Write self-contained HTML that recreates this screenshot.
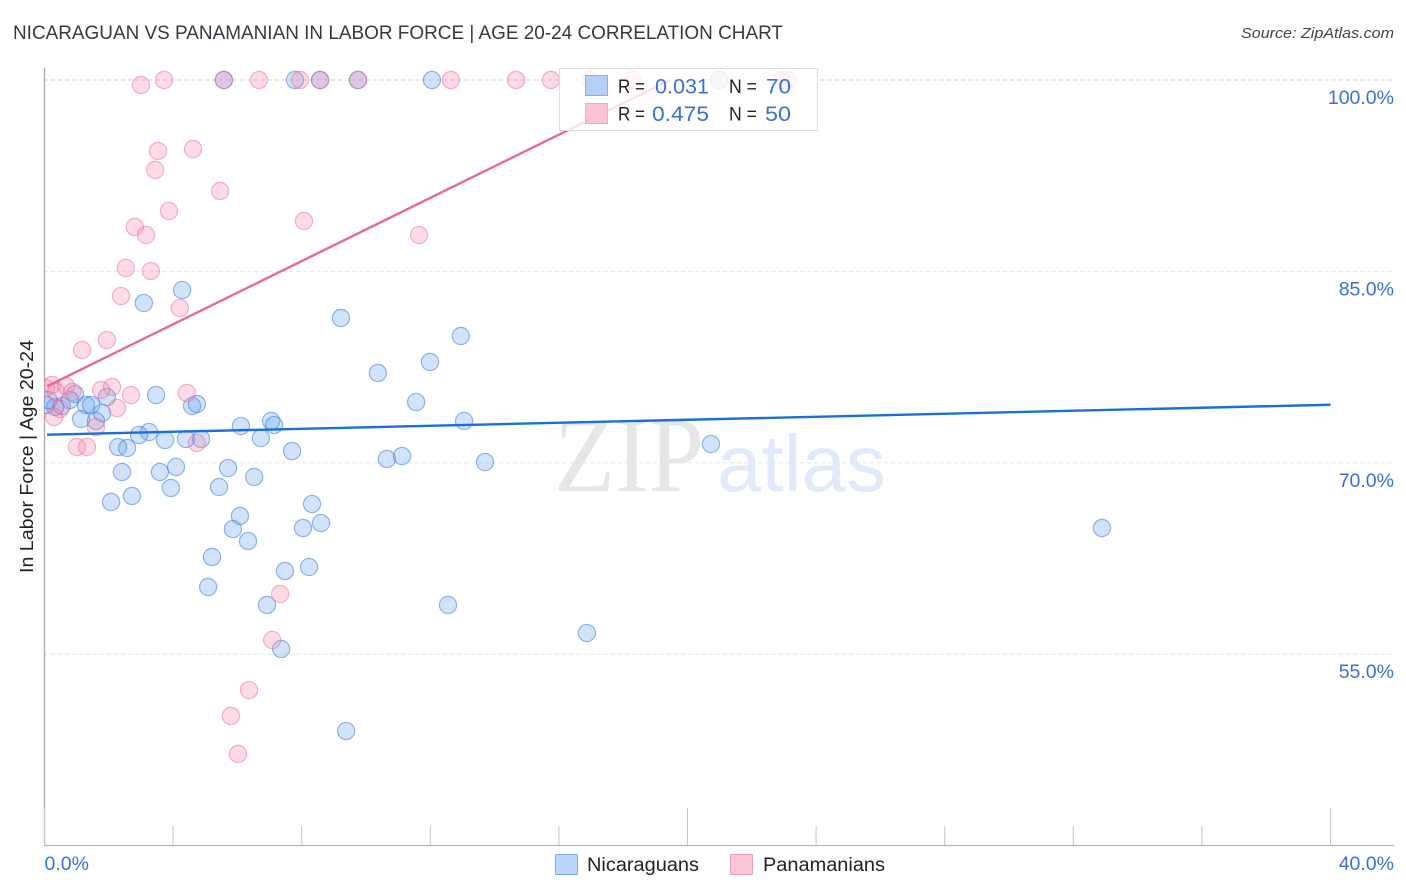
<!DOCTYPE html>
<html lang="en">
<head>
<meta charset="utf-8">
<title>Nicaraguan vs Panamanian in Labor Force | Age 20-24 Correlation Chart</title>
<style>
html,body{margin:0;padding:0;background:#fff;}
body{width:1406px;height:892px;overflow:hidden;}
svg{display:block;font-family:"Liberation Sans",sans-serif;}
</style>
</head>
<body>
<svg id="chart" width="1406" height="892" viewBox="0 0 1406 892" xmlns="http://www.w3.org/2000/svg">
  <defs>
    <clipPath id="plot-clip"><rect x="44.5" y="60" width="1350" height="786"/></clipPath>
  </defs>
  <rect x="0" y="0" width="1406" height="892" fill="#ffffff"/>
  <text x="13" y="39" font-size="19" fill="#333a42" textLength="770" lengthAdjust="spacingAndGlyphs">NICARAGUAN VS PANAMANIAN IN LABOR FORCE | AGE 20-24 CORRELATION CHART</text>
  <text x="1394" y="38" font-size="15" font-style="italic" fill="#444" text-anchor="end" textLength="153" lengthAdjust="spacingAndGlyphs">Source: ZipAtlas.com</text>
  <g>
    <text x="554" y="491" font-family="'Liberation Serif',serif" font-size="107" fill="#e6e6e6" textLength="150" lengthAdjust="spacingAndGlyphs">ZIP</text>
    <text x="717" y="491" font-size="80" fill="#e1eafa" textLength="169" lengthAdjust="spacingAndGlyphs">atlas</text>
  </g>
  <g id="grid"></g>
  <g id="axes"></g>
  <g clip-path="url(#plot-clip)">
    <g id="points-nicaraguans"></g>
    <g id="points-panamanians"></g>
    <g id="trends"></g>
  </g>
  <text transform="translate(33,573) rotate(-90)" font-size="18.5" fill="#222" textLength="233" lengthAdjust="spacingAndGlyphs">In Labor Force | Age 20-24</text>
  <g id="ticklabels"></g>
  <g>
    <rect x="559.5" y="68.5" width="258" height="62" fill="#ffffff" fill-opacity="0.8" stroke="#dcdcdc" stroke-width="1"/>
    <rect x="585.5" y="75.5" width="22" height="20" fill="#b5cff5" stroke="#86b2ea"/>
    <rect x="585.5" y="103.5" width="22" height="20" fill="#fbc4d6" stroke="#f3a9c2"/>
    <text x="618" y="93" font-size="19" fill="#222" textLength="27" lengthAdjust="spacingAndGlyphs">R =</text>
    <text x="655" y="93.5" font-size="21" fill="#3a70d6" textLength="54" lengthAdjust="spacingAndGlyphs">0.031</text>
    <text x="729" y="93" font-size="19" fill="#222" textLength="28" lengthAdjust="spacingAndGlyphs">N =</text>
    <text x="766" y="93.5" font-size="21" fill="#3a70d6" textLength="25" lengthAdjust="spacingAndGlyphs">70</text>
    <text x="618" y="120.5" font-size="19" fill="#222" textLength="27" lengthAdjust="spacingAndGlyphs">R =</text>
    <text x="652" y="121" font-size="21" fill="#3a70d6" textLength="57" lengthAdjust="spacingAndGlyphs">0.475</text>
    <text x="729" y="120.5" font-size="19" fill="#222" textLength="28" lengthAdjust="spacingAndGlyphs">N =</text>
    <text x="765" y="121" font-size="21" fill="#3a70d6" textLength="26" lengthAdjust="spacingAndGlyphs">50</text>
  </g>
  <g>
    <rect x="555.5" y="854.5" width="22" height="20" rx="1" fill="#b9d5f9" stroke="#7ea9e2"/>
    <text x="587" y="871" font-size="19" fill="#222" textLength="112" lengthAdjust="spacingAndGlyphs">Nicaraguans</text>
    <rect x="730.5" y="854.5" width="22" height="20" rx="1" fill="#fcc5d7" stroke="#eba0b9"/>
    <text x="763" y="871" font-size="19" fill="#222" textLength="122" lengthAdjust="spacingAndGlyphs">Panamanians</text>
  </g>
</svg>
<script>
const nicaraguanX = [5.58,7.79,8.57,9.75,12.05,20.98,4.28,3.09,9.22,12.95,11.99,10.37,3.47,11.56,4.59,4.74,1.94,0.95,13.05,7.05,7.14,6.11,6.73,7.70,2.94,3.25,3.75,4.40,4.87,2.29,2.57,2.41,3.59,4.09,5.71,6.52,3.93,5.43,2.72,2.07,8.32,8.60,6.08,5.86,8.04,6.33,5.21,7.48,8.23,5.09,6.92,12.55,16.87,7.36,9.38,32.89,20.73,13.70,10.65,11.12,1.14,1.29,1.45,1.60,1.79,0.54,0.33,0.05,0.12,0.79];
const nicaraguanY = [100,100,100,100,100,100,83.54,82.52,81.35,79.94,77.90,77.04,75.31,74.76,74.45,74.61,75.16,75.39,73.28,73.28,72.96,72.88,71.94,70.92,72.18,72.41,71.79,71.87,71.87,71.24,71.16,69.28,69.28,69.67,69.59,68.89,68.03,68.10,67.40,66.93,66.77,65.28,65.83,64.81,64.89,63.87,62.62,61.52,61.83,60.27,58.86,58.86,56.66,55.41,48.98,64.89,71.47,70.06,70.30,70.53,73.43,74.53,74.53,73.28,73.90,74.45,74.37,74.53,74.92,74.92];
const panamanianX = [3.00,3.72,5.58,6.67,7.95,8.57,9.75,12.64,14.67,15.75,16.97,18.30,23.09,22.94,4.62,3.53,3.44,5.46,3.87,2.81,3.16,8.07,11.65,3.31,2.53,2.38,4.21,1.94,1.17,2.10,1.76,2.69,4.43,2.26,1.60,1.01,1.32,4.74,7.33,7.08,6.36,5.80,6.02,0.05,0.23,0.36,0.67,0.86,0.30,0.48];
const panamanianY = [99.61,100,100,100,100,100,100,100,100,100,100,100,100,100,94.59,94.44,92.95,91.30,89.73,88.48,87.85,88.95,87.85,85.03,85.27,83.07,82.13,79.62,78.84,75.94,75.71,75.31,75.47,74.29,72.81,71.24,71.24,71.55,59.72,56.11,52.19,50.16,47.18,75.86,76.10,75.55,76.02,75.55,73.59,74.22];
const trendNicaraguansX = [0.08,40];
const trendNicaraguansY = [72.2,74.55];
const trendPanamaniansX = [0.08,19.46];
const trendPanamaniansY = [76.0,100];
const yGridValues = [100,85,70,55];
const yTickLabels = ['100.0%','85.0%','70.0%','55.0%'];
const xTickValues = [0,4,8,12,16,20,24,28,32,36,40];
const xTallTicks = [0,20,40];
const xEdgeLabels = ['0.0%','40.0%'];

const svgNS = 'http://www.w3.org/2000/svg';
function xScale(v){ return 44.5 + v * 32.15; }
function yScale(v){ return 80 + (100 - v) * 12.76; }
function make(tag, attrs, parent){
  const el = document.createElementNS(svgNS, tag);
  for (const k in attrs) el.setAttribute(k, attrs[k]);
  parent.appendChild(el);
  return el;
}
const grid = document.getElementById('grid');
yGridValues.forEach(function(v, i){
  const line = make('line', {x1:44, x2:1394, y1:yScale(v), y2:yScale(v), stroke: i === 0 ? '#cfcfcf' : '#e6e6e6', 'stroke-width':1, 'stroke-dasharray':'4 3'}, grid);
  
  
});
const axes = document.getElementById('axes');
const yAxisLine = make('line', {x1:44.5, x2:44.5, y1:68, y2:845.5, stroke:'#a8a8a8', 'stroke-width':1.3}, axes);


const xAxisLine = make('line', {x1:44, x2:1394, y1:845.5, y2:845.5, stroke:'#b5b5b5', 'stroke-width':1.3}, axes);


xTickValues.forEach(function(v){
  const tall = xTallTicks.indexOf(v) >= 0;
  const tick = make('line', {x1:xScale(v), x2:xScale(v), y1: tall ? 808 : 826, y2:845, stroke:'#c4c4c4', 'stroke-width':1}, axes);
  
  
});
function drawPoints(groupId, xs, ys, fill, stroke, name){
  const g = document.getElementById(groupId);
  xs.forEach(function(x, i){
    const c = make('circle', {cx:xScale(x), cy:yScale(ys[i]), r:8.6, fill:fill, stroke:stroke, 'stroke-width':1.2}, g);
    
    
  });
}
drawPoints('points-nicaraguans', nicaraguanX, nicaraguanY, 'rgba(100,160,235,0.29)', 'rgba(60,125,220,0.55)', 'nicaraguans-point');
drawPoints('points-panamanians', panamanianX, panamanianY, 'rgba(245,130,170,0.29)', 'rgba(230,110,155,0.5)', 'panamanians-point');
const trends = document.getElementById('trends');
const trendBlue = make('line', {x1:xScale(trendNicaraguansX[0]), y1:yScale(trendNicaraguansY[0]), x2:xScale(trendNicaraguansX[1]), y2:yScale(trendNicaraguansY[1]), stroke:'#1a6fdb', 'stroke-width':2.4}, trends);


const trendPink = make('line', {x1:xScale(trendPanamaniansX[0]), y1:yScale(trendPanamaniansY[0]), x2:xScale(trendPanamaniansX[1]), y2:yScale(trendPanamaniansY[1]), stroke:'#e8689a', 'stroke-width':2.4}, trends);


const labels = document.getElementById('ticklabels');
yGridValues.forEach(function(v, i){
  const t = make('text', {x:1394, y:yScale(v) + 24, 'font-size':19.5, fill:'#3a70d6', 'text-anchor':'end'}, labels);
  t.textContent = yTickLabels[i];
  
  
});
const x0Label = make('text', {x:xScale(0), y:870, 'font-size':19.5, fill:'#3a70d6'}, labels);
x0Label.textContent = xEdgeLabels[0];


const x40Label = make('text', {x:1394, y:870, 'font-size':19.5, fill:'#3a70d6', 'text-anchor':'end'}, labels);
x40Label.textContent = xEdgeLabels[1];


</script>
</body>
</html>
